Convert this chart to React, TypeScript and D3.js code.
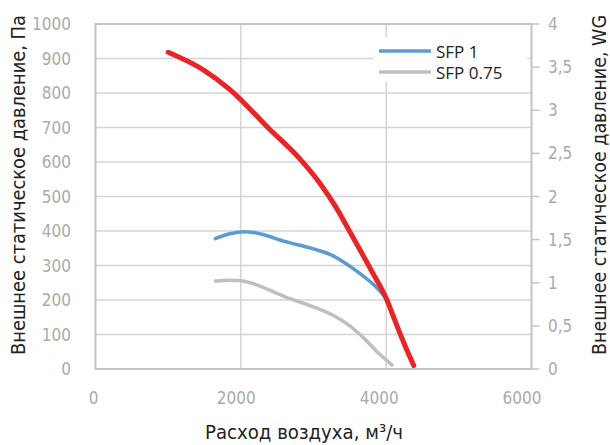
import React from "react";
import * as d3 from "d3";

const xTicks = [0, 2000, 4000, 6000];
const yTicksLeft = [0, 100, 200, 300, 400, 500, 600, 700, 800, 900, 1000];
const yTicksRight = [0, 0.5, 1, 1.5, 2, 2.5, 3, 3.5, 4];
const rightLabels = ["0", "0,5", "1", "1,5", "2", "2,5", "3", "3,5", "4"];

const redX = [1000, 1500, 1850, 2400, 2800, 3100, 3300, 3500, 3800, 4000, 4100, 4200, 4300, 4380];
const redY = [918, 865, 810, 694, 612, 535, 472, 398, 284, 205, 152, 98, 48, 10];

const sfp1X = [1650, 1850, 2050, 2200, 2600, 3000, 3250, 3450, 3650, 3850, 4000];
const sfp1Y = [378, 392, 398, 395, 370, 348, 330, 305, 275, 240, 205];

const sfp075X = [1650, 1850, 2000, 2200, 2600, 3000, 3300, 3500, 3700, 3900, 4080];
const sfp075Y = [255, 257, 256, 245, 210, 180, 152, 125, 88, 45, 12];

const seriesNames = ["SFP 1", "SFP 0.75"];
const seriesColors = ["#5b9bd5", "#bfbfbf"];

const condensed = "'Liberation Sans Narrow', 'DejaVu Sans Condensed', 'Roboto Condensed', sans-serif";

export default function App() {
  const W = 610, H = 445;
  const L = 95.5, R = 531.5, T = 24, B = 369;
  const x = d3.scaleLinear().domain([0, 6000]).range([L, R]);
  const y = d3.scaleLinear().domain([0, 1000]).range([B, T]);
  const y2 = d3.scaleLinear().domain([0, 4]).range([B, T]);

  const line = d3
    .line<[number, number]>()
    .x((d) => x(d[0]))
    .y((d) => y(d[1]))
    .curve(d3.curveMonotoneX);

  const zip = (a: number[], b: number[]) => a.map((v, i) => [v, b[i]] as [number, number]);

  return (
    <svg width={W} height={H} style={{ position: "absolute", left: 0, top: 0 }}>
      <rect x={0} y={0} width={W} height={H} fill="#fff" />
      {yTicksLeft.slice(1, -1).map((t) => (
        <line key={"gy" + t} x1={L} x2={R} y1={y(t)} y2={y(t)} stroke="#d4d4d4" strokeWidth={1.5} />
      ))}
      {xTicks.slice(1, -1).map((t) => (
        <line key={"gx" + t} x1={x(t)} x2={x(t)} y1={T} y2={B} stroke="#d4d4d4" strokeWidth={1.5} />
      ))}
      <rect x={L} y={T} width={R - L} height={B - T} fill="none" stroke="#c4c4c4" strokeWidth={2} />
      {yTicksRight.map((t) => (
        <line key={"rt" + t} x1={R} x2={R + 8} y1={y2(t)} y2={y2(t)} stroke="#c4c4c4" strokeWidth={1.5} />
      ))}
      {yTicksLeft.map((t) => (
        <text key={"yl" + t} x={71} y={y(t) + 6} textAnchor="end" fontFamily={condensed} fontSize={17} fill="#aaaaaa">
          {t}
        </text>
      ))}
      {yTicksRight.map((t, i) => (
        <text key={"yr" + t} x={548} y={y2(t) + 6} textAnchor="start" fontFamily={condensed} fontSize={17} fill="#aaaaaa">
          {rightLabels[i]}
        </text>
      ))}
      {xTicks.map((t, i) => (
        <text key={"xl" + t} x={x(t) - 2 - i * 2.5} y={404} textAnchor="middle" fontFamily={condensed} fontSize={17} fill="#aaaaaa">
          {t}
        </text>
      ))}
      <text
        transform={`translate(25,185) rotate(-90)`}
        textAnchor="middle"
        fontFamily={condensed}
        fontSize={20}
        fill="#222"
        textLength={340}
        lengthAdjust="spacingAndGlyphs"
      >
        Внешнее статическое давление, Па
      </text>
      <text
        transform={`translate(606,185) rotate(-90)`}
        textAnchor="middle"
        fontFamily={condensed}
        fontSize={20}
        fill="#222"
        textLength={340}
        lengthAdjust="spacingAndGlyphs"
      >
        Внешнее статическое давление, WG
      </text>
      <text
        x={304}
        y={439}
        textAnchor="middle"
        fontFamily={condensed}
        fontSize={20}
        fill="#222"
        textLength={198}
        lengthAdjust="spacingAndGlyphs"
      >
        Расход воздуха, м³/ч
      </text>
      <path d={line(zip(sfp075X, sfp075Y)) || ""} fill="none" stroke={seriesColors[1]} strokeWidth={3.5} strokeLinecap="round" />
      <path d={line(zip(sfp1X, sfp1Y)) || ""} fill="none" stroke={seriesColors[0]} strokeWidth={3.5} strokeLinecap="round" />
      <path d={line(zip(redX, redY)) || ""} fill="none" stroke="#ec2224" strokeWidth={5} strokeLinecap="round" />
      <rect x={373} y={37} width={154} height={45} fill="#fff" />
      {seriesNames.map((n, i) => (
        <g key={n}>
          <line x1={379} x2={431} y1={51 + i * 21} y2={51 + i * 21} stroke={seriesColors[i]} strokeWidth={3.5} />
          <text x={436} y={57.5 + i * 21} fontFamily="'Open Sans', 'Noto Sans', sans-serif" fontSize={17} fill="#222">
            {n}
          </text>
        </g>
      ))}
    </svg>
  );
}
